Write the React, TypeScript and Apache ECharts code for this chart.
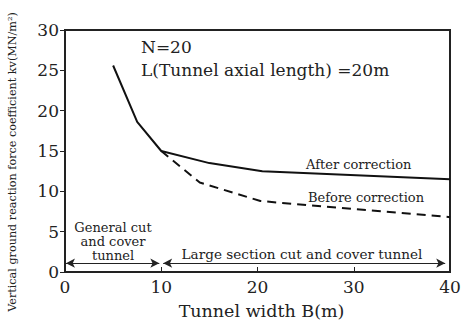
import React, { useEffect, useRef } from "react";
import * as echarts from "echarts";

const afterX = [5, 7.5, 10, 15, 20.5, 40];
const afterY = [25.6, 18.6, 15, 13.5, 12.5, 11.5];
const beforeX = [10, 14, 20.3, 30, 40];
const beforeY = [15, 11.1, 8.8, 7.8, 6.8];
const xTicks = [0, 10, 20, 30, 40];
const yTicks = [0, 5, 10, 15, 20, 25, 30];
const yName = "Vertical ground reaction force coefficient kv(MN/m²)";

const FONT = "DejaVu Serif";

export default function App() {
  const ref = useRef<HTMLDivElement>(null);
  useEffect(() => {
    if (!ref.current) return;
    const chart = echarts.init(ref.current, null, { renderer: "svg" });
    const after = afterX.map((x, i) => [x, afterY[i]]);
    const before = beforeX.map((x, i) => [x, beforeY[i]]);
    chart.setOption({
      animation: false,
      backgroundColor: "#fff",
      textStyle: { fontFamily: FONT },
      grid: {
        left: 65,
        right: 12,
        top: 30,
        bottom: 54,
        show: true,
        borderColor: "#222",
        borderWidth: 2,
        outerBoundsMode: "none",
        containLabel: false,
      },
      xAxis: {
        type: "value",
        min: xTicks[0],
        max: xTicks[xTicks.length - 1],
        interval: 10,
        name: "Tunnel width B(m)",
        nameLocation: "middle",
        nameGap: 30,
        nameTextStyle: { fontFamily: FONT, fontSize: 17.5, color: "#222", padding: [0, 0, 0, 8] },
        axisLine: { lineStyle: { color: "#222", width: 2 } },
        axisTick: { inside: true, length: 5, lineStyle: { color: "#222" } },
        axisLabel: { fontFamily: FONT, fontSize: 17, color: "#222", margin: 6 },
        splitLine: { show: false },
      },
      yAxis: {
        type: "value",
        min: yTicks[0],
        max: yTicks[yTicks.length - 1],
        interval: 5,
        axisLine: { lineStyle: { color: "#222", width: 2 } },
        axisTick: { inside: false, length: 5, lineStyle: { color: "#222" } },
        axisLabel: { fontFamily: FONT, fontSize: 17, color: "#222", margin: 6 },
        splitLine: { show: false },
      },
      series: [
        {
          type: "line",
          data: after,
          symbol: "none",
          lineStyle: { color: "#111", width: 2 },
          markLine: {
            silent: true,
            symbol: ["arrow", "arrow"],
            symbolSize: [7, 9],
            label: { show: false },
            lineStyle: { color: "#222", width: 1, type: "solid" },
            data: [
              [{ coord: [0.1, 1.1] }, { coord: [9.8, 1.1] }],
              [{ coord: [10.2, 1.1] }, { coord: [39.5, 1.1] }],
            ],
          },
        },
        {
          type: "line",
          data: before,
          symbol: "none",
          lineStyle: { color: "#111", width: 2, type: [9, 6] },
        },
      ],
      graphic: [
        {
          type: "text",
          x: 12,
          y: 162,
          rotation: Math.PI / 2,
          style: { text: yName, fontFamily: FONT, fontSize: 11.2, align: "center", verticalAlign: "middle", fill: "#222" },
        },
        { type: "text", left: 141, top: 38, style: { text: "N=20", fontFamily: FONT, fontSize: 17, fill: "#222" } },
        { type: "text", left: 141, top: 61, style: { text: "L(Tunnel axial length) =20m", fontFamily: FONT, fontSize: 17, fill: "#222" } },
        { type: "text", left: 306, top: 158, style: { text: "After correction", fontFamily: FONT, fontSize: 13, fill: "#222" } },
        { type: "text", left: 308, top: 191, style: { text: "Before correction", fontFamily: FONT, fontSize: 13, fill: "#222" } },
        { type: "text", x: 113, y: 221, style: { text: "General cut", fontFamily: FONT, fontSize: 13, align: "center", fill: "#222" } },
        { type: "text", x: 113, y: 235, style: { text: "and cover", fontFamily: FONT, fontSize: 13, align: "center", fill: "#222" } },
        { type: "text", x: 113, y: 249, style: { text: "tunnel", fontFamily: FONT, fontSize: 13, align: "center", fill: "#222" } },
        {
          type: "text",
          x: 302,
          y: 247,
          style: { text: "Large section cut and cover tunnel", fontFamily: FONT, fontSize: 13.6, align: "center", fill: "#222" },
        },
      ],
    });
    return () => chart.dispose();
  }, []);
  return <div ref={ref} style={{ width: 462, height: 326, position: "absolute", left: 0, top: 0 }} />;
}
